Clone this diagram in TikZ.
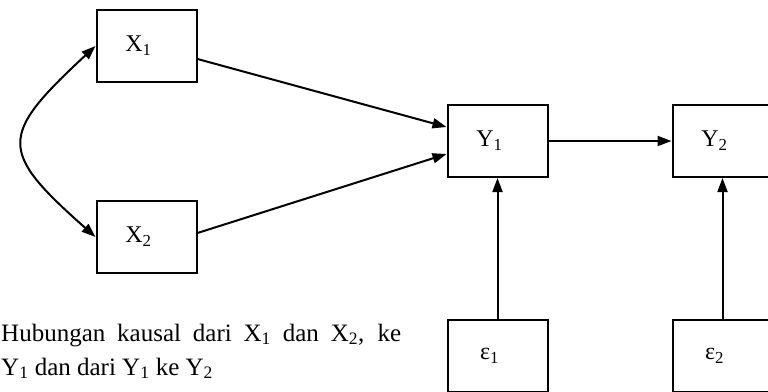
\documentclass[tikz,border=0pt]{standalone}
\usepackage{fontspec}
\setmainfont{Liberation Serif}
\usetikzlibrary{arrows.meta}

\tikzset{
  varbox/.style={draw, line width=2pt, minimum width=100pt, minimum height=72pt,
    inner sep=0pt, font=\fontsize{24}{28}\selectfont},
  path/.style={line width=2pt, -{Triangle[length=14pt,width=10pt]}},
}
% label sits a little left of the box centre
\newcommand{\boxlabel}[2]{#1\textsubscript{#2}\hspace*{16pt}}

\begin{document}
\begin{tikzpicture}[x=1pt, y=-1pt]
  % Frame of the cut-out
  \clip (0,0) rectangle (768,391);

  % Variables
  \node[varbox] (x1) at (146.5,46)  {\boxlabel{X}{1}};
  \node[varbox] (x2) at (146.5,237) {\boxlabel{X}{2}};
  \node[varbox] (y1) at (497.5,141) {\boxlabel{Y}{1}};
  \node[varbox] (y2) at (722.5,141) {\boxlabel{Y}{2}};
  \node[varbox] (e1) at (497.5,356) {\boxlabel{ε}{1}};
  \node[varbox] (e2) at (722.5,356) {\boxlabel{ε}{2}};

  % Correlation between X1 and X2
  \draw[path, {Triangle[length=14pt,width=10pt]}-{Triangle[length=14pt,width=10pt]}]
    (x1.west) .. controls +(-97,90) and +(-97,-86) .. (x2.west);

  % Causal paths
  \draw[path] ([yshift=-13pt]x1.east) -- ([yshift=14pt]y1.west);
  \draw[path] ([yshift=4pt]x2.east) -- ([yshift=-13pt]y1.west);
  \draw[path] (y1.east) -- (y2.west);
  \draw[path] (e1.north) -- (y1.south);
  \draw[path] (e2.north) -- (y2.south);

  % Caption
  \node[anchor=base west, inner sep=0pt, font=\fontsize{25}{34}\selectfont] (cap1) at (1,341)
    {\makebox[400pt][s]{Hubungan kausal dari X\textsubscript{1} dan X\textsubscript{2}, ke}};
  \node[anchor=base west, inner sep=0pt, font=\fontsize{25}{34}\selectfont] (cap2) at (1,375)
    {Y\textsubscript{1} dan dari Y\textsubscript{1} ke Y\textsubscript{2}};
\end{tikzpicture}
\end{document}
